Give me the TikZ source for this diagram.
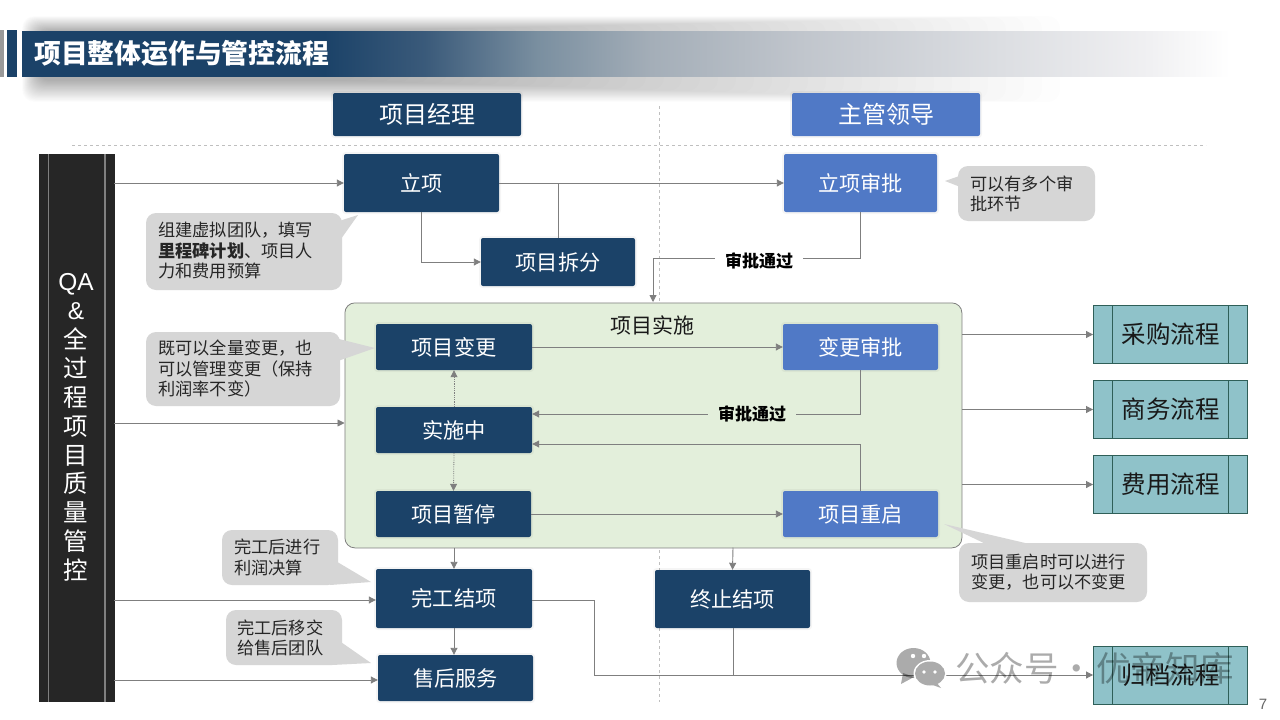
\documentclass[tikz,border=0pt]{standalone}
\usepackage{fontspec}
\setmainfont{Noto Sans CJK SC}
\newfontfamily\latinf{Liberation Sans}
\usetikzlibrary{arrows.meta}
\definecolor{navy}{HTML}{1B4268}
\definecolor{mblue}{HTML}{5079C6}
\definecolor{teal1}{HTML}{8FC2C9}
\definecolor{teal2}{HTML}{2F5F58}
\definecolor{panel}{HTML}{E3EFDB}
\definecolor{bub}{HTML}{D6D6D6}
\definecolor{lin}{HTML}{7F7F7F}
\definecolor{ts1}{HTML}{3A5A7A}
\definecolor{ts2}{HTML}{7A8FA0}
\definecolor{ts3}{HTML}{A4AEB8}
\definecolor{ts4}{HTML}{C0C5CC}
\definecolor{ts5}{HTML}{DCDEE2}
\definecolor{ts6}{HTML}{F0F0F2}
\pgfdeclarehorizontalshading{titleshade}{100bp}{color(0bp)=(navy);color(37bp)=(navy);color(41bp)=(ts1);color(45.5bp)=(ts2);color(50bp)=(ts3);color(55.9bp)=(ts4);color(63.9bp)=(ts5);color(69.8bp)=(ts6);color(73bp)=(white);color(100bp)=(white)}
\tikzset{
 base/.style={inner sep=0pt,align=center,font=\fontsize{21.2}{24}\selectfont,text=white,preaction={draw=black,draw opacity=.04,line width=4pt}},
 navybox/.style={base,fill=navy,rounded corners=2pt},
 bluebox/.style={base,fill=mblue,rounded corners=2pt},
 arrowline/.style={draw=lin,line width=.9pt,-{Triangle[length=7pt,width=7pt]}},
 plainline/.style={draw=lin,line width=.9pt},
 dotline/.style={draw=lin,line width=.8pt,densely dotted,-{Triangle[length=7pt,width=7pt]}},
 bubble/.style={fill=bub,draw=none},
 bubtext/.style={inner sep=0pt,align=left,anchor=west,text=black!85,font=\fontsize{17.2}{20.5}\selectfont},
 proc/.style={inner sep=0pt,fill=teal1,draw=teal2,line width=.9pt,text=black!90,font=\fontsize{24.5}{28}\selectfont},
 passlabel/.style={inner xsep=10pt,inner ysep=1pt,fill=white,font=\fontsize{17}{19}\selectfont\bfseries,text=black},
}
\begin{document}
\begin{tikzpicture}[x=1pt,y=-1pt]
\useasboundingbox (0,0) rectangle (1280,720);
\fill[white] (0,0) rectangle (1280,720);
% title shadow
\foreach \i in {0,...,39}{
 \fill[black,opacity=.008,rounded corners=12pt] (22+\i*.4,16+\i*.38) rectangle (1060-\i*18,102-\i*.55);
}
% title
\fill[gray!80] (0,30) rectangle (4,77);
\fill[navy] (7,30) rectangle (17,77);
\node[inner sep=0pt,minimum width=1258pt,minimum height=45pt,anchor=north west,shading=titleshade] (titlebar) at (22,31) {};
\node[inner sep=0pt,anchor=west,text=white,font=\fontsize{26.8}{30}\selectfont\bfseries] (title) at (34,53) {项目整体运作与管控流程};
% guides
\draw[black!25,dashed,line width=.6pt] (72,145) -- (1206,145);
\draw[black!25,dashed,line width=.6pt] (659,106) -- (659,702);
% headers
\node[navybox,minimum width=188pt,minimum height=43pt,font=\fontsize{24}{28}\selectfont] (pm) at (427,114.5) {项目经理};
\node[bluebox,minimum width=188pt,minimum height=43pt,font=\fontsize{24}{28}\selectfont] (lead) at (886,114.5) {主管领导};
% QA bar
\node[inner sep=0pt,fill=black!85,minimum width=76pt,minimum height=548pt,anchor=north west] (qa) at (38.5,154) {};
\draw[gray,line width=1.5pt] (48.5,154) -- (48.5,702) (105,154) -- (105,702);
\node[inner sep=0pt,align=center,text=white,font=\fontsize{24.5}{28.85}\selectfont] (qat) at (76,427.5) {{\latinf QA}\\{\latinf\&}\\全\\过\\程\\项\\目\\质\\量\\管\\控};
% panel
\node[inner sep=0pt,fill=panel,draw=lin,line width=.8pt,rounded corners=10pt,minimum width=617pt,minimum height=245pt,anchor=north west] (impl) at (344.5,302.5) {};
\node[inner sep=0pt,font=\fontsize{21}{24}\selectfont,text=black!90] (implt) at (652.5,325) {项目实施};
% boxes
\node[navybox,minimum width=155pt,minimum height=58pt] (lx) at (421.5,183) {立项};
\node[bluebox,minimum width=153pt,minimum height=58pt] (lxsp) at (860.5,183) {立项审批};
\node[navybox,minimum width=154pt,minimum height=48pt] (cf) at (558,262) {项目拆分};
\node[navybox,minimum width=156pt,minimum height=46pt] (bg) at (454,347) {项目变更};
\node[bluebox,minimum width=155pt,minimum height=46pt] (bgsp) at (860.5,347) {变更审批};
\node[navybox,minimum width=156pt,minimum height=46pt] (ss) at (454,430) {实施中};
\node[navybox,minimum width=155pt,minimum height=46pt] (zt) at (453.5,514) {项目暂停};
\node[bluebox,minimum width=155pt,minimum height=46pt] (cq) at (860.5,514) {项目重启};
\node[navybox,minimum width=156pt,minimum height=59pt] (wg) at (454,598.5) {完工结项};
\node[navybox,minimum width=155pt,minimum height=58pt] (zz) at (732.5,599) {终止结项};
\node[navybox,minimum width=155pt,minimum height=46pt] (sh) at (455.5,678) {售后服务};
% process
\foreach \n/\y/\t in {cg/334.5/采购流程,sw/409.5/商务流程,fy/484.5/费用流程,gd/675/归档流程}{
 \node[proc,minimum width=154pt,minimum height=58pt] (\n) at (1170.5,\y) {\t};
 \draw[teal2,line width=.8pt] (1112,\y-29) -- (1112,\y+29) (1228,\y-29) -- (1228,\y+29);
}
% connectors
\draw[arrowline] (114,183) -- (lx.west);
\draw[arrowline] (lx.east) -- (lxsp.west);
\draw[plainline] (558,183) -- (cf.north);
\draw[arrowline] (lx.south) |- (cf.west);
\draw[arrowline] (lxsp.south) |- (653,258) -- (653,302);
\node[passlabel] (pass1) at (759,261) {审批通过};
\draw[arrowline] (114,423) -- (impl.west |- 0,423);
\draw[arrowline] (bg.east) -- (bgsp.west);
\draw[arrowline] (bgsp.south) |- (ss.east |- 0,414);
\node[passlabel,fill=panel] (pass2) at (752,414) {审批通过};
\draw[arrowline] (cq.north) |- (ss.east |- 0,444);
\draw[arrowline] (zt.east) -- (cq.west);
\draw[dotline] (ss.north) -- (bg.south);
\draw[dotline] (ss.south) -- (zt.north);
\draw[arrowline] (454,547.5) -- (wg.north);
\draw[arrowline] (733,547.5) -- (zz.north);
\draw[arrowline] (wg.south) -- (wg.south |- sh.north);
\draw[arrowline] (114,600) -- (wg.west |- 0,600);
\draw[arrowline] (114,680) -- (sh.west |- 0,680);
\draw[arrowline] (wg.east |- 0,600) -- (594,600) -- (594,675) -- (gd.west);
\draw[plainline] (zz.south -| 733,0) -- (733,675);
\foreach \n/\y in {cg/334.5,sw/409.5,fy/484.5}{
 \draw[arrowline] (impl.east |- 0,\y) -- (\n.west);
}
% bubbles
\fill[bubble,rounded corners=10pt] (146,213) rectangle (342,290);
\fill[bubble] (336,222) -- (358,215) -- (336,246) -- cycle;
\node[bubtext] (b1) at (158,251) {组建虚拟团队，填写\\{\bfseries 里程碑计划}、项目人\\力和费用预算};
\fill[bubble,rounded corners=10pt] (146,332) rectangle (340,406);
\fill[bubble] (335,338) -- (375,348) -- (335,362) -- cycle;
\node[bubtext] (b2) at (158,369) {既可以全量变更，也\\可以管理变更（保持\\利润率不变）};
\fill[bubble,rounded corners=10pt] (958,166) rectangle (1095,221);
\fill[bubble] (968,173) -- (945,181) -- (968,190) -- cycle;
\node[bubtext] (b3) at (970,194) {可以有多个审\\批环节};
\fill[bubble,rounded corners=10pt] (222,530) rectangle (338,585);
\fill[bubble] (334,560) -- (371,582) -- (330,585) -- cycle;
\node[bubtext] (b4) at (234,557.5) {完工后进行\\利润决算};
\fill[bubble,rounded corners=10pt] (226,610) rectangle (342,665);
\fill[bubble] (338,640) -- (371,663) -- (332,665) -- cycle;
\node[bubtext] (b5) at (237,638) {完工后移交\\给售后团队};
\fill[bubble,rounded corners=10pt] (959,543) rectangle (1147,602);
\fill[bubble] (990,546) -- (944,524) -- (1038,546) -- cycle;
\node[bubtext] (b6) at (971,572) {项目重启时可以进行\\变更，也可以不变更};
% watermark
\begin{scope}[opacity=.33]
\fill[black] (913.5,663) ellipse (17pt and 15pt);
\fill[black] (903,673) -- (901,684) -- (914,677) -- cycle;
\end{scope}
\fill[white] (913,656) circle (2.2pt) (924,656) circle (2.2pt);
\fill[white] (930,673.5) ellipse (16.5pt and 13.5pt);
\fill[black!33] (930,673.5) ellipse (15pt and 12pt);
\fill[black!33] (936,682) -- (941,688) -- (930,684) -- cycle;
\fill[white] (924,672) circle (1.8pt) (935,672) circle (1.8pt);
\node[inner sep=0pt,anchor=west,text=black,opacity=.33,font=\fontsize{34.5}{38}\selectfont] (wm) at (955,668) {公众号\hspace{1pt}·\hspace{2pt}优帝知库};
\node[inner sep=0pt,text=black!60,font=\latinf\fontsize{15}{18}\selectfont] (pg) at (1263,704) {7};
\end{tikzpicture}
\end{document}
